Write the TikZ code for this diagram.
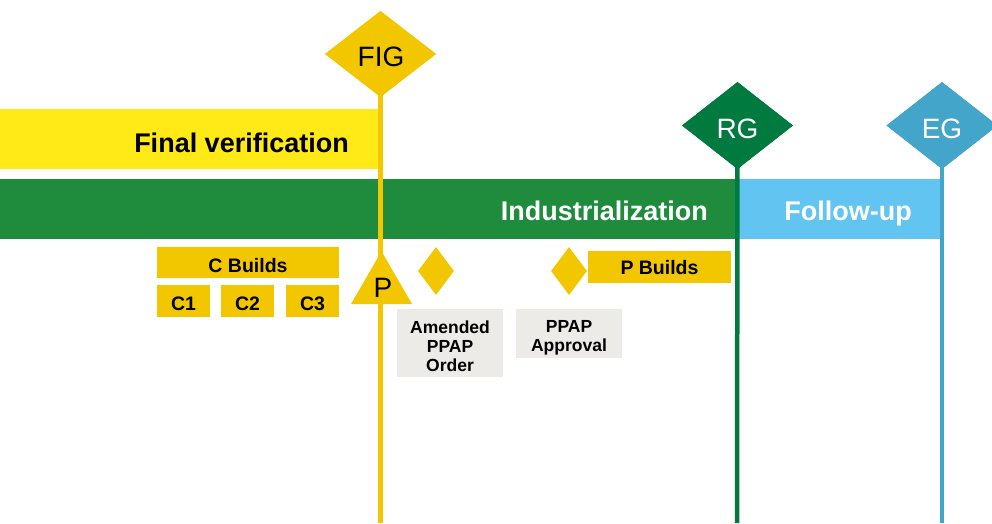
\documentclass[tikz,border=0pt]{standalone}
\usepackage{fontspec}
\setmainfont{Liberation Sans}
\usetikzlibrary{shapes.geometric}
\definecolor{fvyellow}{HTML}{FFE916}
\definecolor{gold}{HTML}{F2C700}
\definecolor{indgreen}{HTML}{1E8B3D}
\definecolor{rggreen}{HTML}{007A3E}
\definecolor{fublue}{HTML}{62C4F0}
\definecolor{egblue}{HTML}{42A5C9}
\definecolor{boxgray}{HTML}{ECEBE7}
\tikzset{
  bar/.style={fill=#1, draw=none, inner sep=0pt, anchor=north west},
  bartext/.style={text=#1, font=\bfseries\fontsize{27}{32}\selectfont, inner sep=0pt},
  gate/.style={diamond, fill=#1, draw=none, minimum width=111pt, minimum height=86pt, inner sep=0pt},
  gatetext/.style={text=#1, font=\fontsize{28}{32}\selectfont, inner sep=0pt, anchor=base},
  gateline/.style={draw=#1, line width=4.5pt},
  buildbox/.style={fill=gold, draw=none, inner sep=0pt},
  boxtext/.style={inner sep=0pt, anchor=base, font=\bfseries\fontsize{19.5}{22}\selectfont},
  graybox/.style={fill=boxgray, draw=none, inner sep=0pt},
  graytext/.style={inner sep=0pt, anchor=base, align=center, font=\bfseries\fontsize{17.5}{18.8}\selectfont},
  smalldia/.style={diamond, fill=gold, draw=none, minimum width=36pt, minimum height=48pt, inner sep=0pt},
}
\begin{document}
\begin{tikzpicture}[x=1pt, y=-1pt]
\useasboundingbox (0,0) rectangle (992,523);
% bars
\node[bar=fvyellow, minimum width=379pt, minimum height=60pt] (fvbar) at (0,109) {};
\node[bar=indgreen, minimum width=737pt, minimum height=60pt] (indbar) at (0,179) {};
\node[bar=fublue, minimum width=203pt, minimum height=60pt] (fubar) at (737,179) {};
\node[bartext=black, anchor=base east] (fvtext) at (349,152) {Final verification};
\node[bartext=white, anchor=base east] (indtext) at (708,220) {Industrialization};
\node[bartext=white, anchor=base] (futext) at (848,220) {Follow-up};
% gates
\coordinate (figbot) at (380.5,523);
\coordinate (rgbot) at (737,523);
\coordinate (egbot) at (942,523);
\node[gate=gold] (fig) at (380.5,54) {};
\node[gate=rggreen, minimum height=87pt] (rg) at (737.5,125.5) {};
\node[gate=egblue, minimum height=87pt] (eg) at (942,125.5) {};
\draw[gateline=gold] (fig.center) -- (figbot);
\draw[gateline=rggreen] (rg.center) -- (rgbot);
\draw[gateline=egblue] (eg.center) -- (egbot);
\node[gate=gold] at (fig) {};
\node[gate=rggreen, minimum height=87pt] at (rg) {};
\node[gate=egblue, minimum height=87pt] at (eg) {};
\node[gatetext=black] (figtext) at (381,66) {FIG};
\node[gatetext=white] (rgtext) at (737.5,138) {RG};
\node[gatetext=white] (egtext) at (942,138) {EG};
% P triangle
\node[regular polygon, regular polygon sides=3, fill=gold, draw=none, minimum size=70.4pt, inner sep=0pt] (tri) at (381.5,286.4) {};
\node[gatetext=black] (ptext) at (383,297) {P};
% C builds
\node[buildbox, minimum width=182pt, minimum height=31pt] (cb) at (248,262.5) {};
\node[buildbox, minimum width=53pt, minimum height=32pt] (c1) at (183.5,301) {};
\node[buildbox, minimum width=53pt, minimum height=32pt] (c2) at (247.5,301) {};
\node[buildbox, minimum width=53pt, minimum height=32pt] (c3) at (312.5,301) {};
\node[boxtext] (cbt) at (248,272) {C Builds};
\node[boxtext] (c1t) at (183.5,310) {C1};
\node[boxtext] (c2t) at (247.5,310) {C2};
\node[boxtext] (c3t) at (312.5,310) {C3};
% small diamonds
\node[smalldia] (d1) at (436,271) {};
\node[smalldia] (d2) at (569,271) {};
\node[buildbox, minimum width=143pt, minimum height=32pt] (pb) at (659.5,267) {};
\node[boxtext] (pbt) at (659.5,274) {P Builds};
% gray boxes
\node[graybox, minimum width=106pt, minimum height=68pt] (amend) at (450,343) {};
\node[graybox, minimum width=106pt, minimum height=49pt] (appr) at (569,333.5) {};
\node[graytext] (amendt) at (450,371) {Amended\\PPAP\\Order};
\node[graytext] (apprt) at (569,351) {PPAP\\Approval};
\end{tikzpicture}
\end{document}
